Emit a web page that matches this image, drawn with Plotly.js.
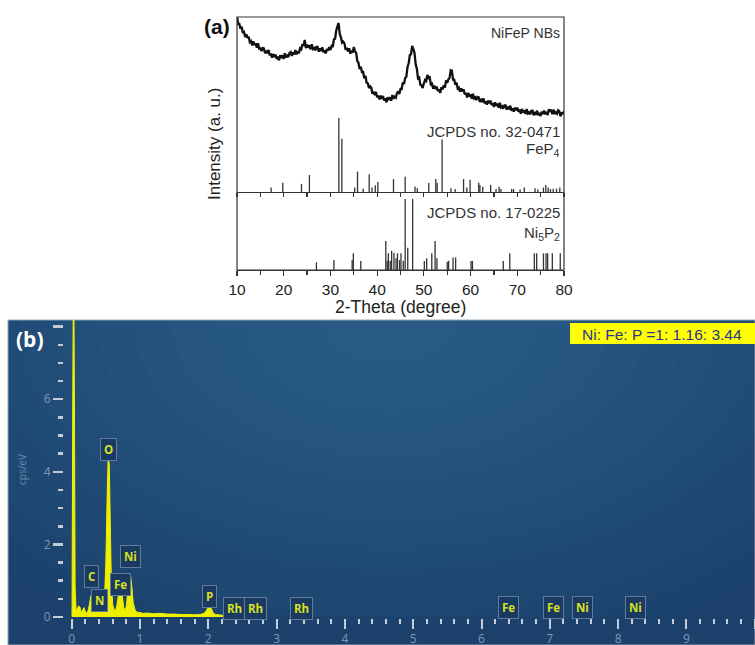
<!DOCTYPE html>
<html>
<head>
<meta charset="utf-8">
<script src="https://cdn.plot.ly/plotly-3.0.1.min.js"></script>
<style>
  html, body { margin: 0; padding: 0; background: #fff; }
  #chart { width: 755px; height: 645px; }
</style>
</head>
<body>
<div id="chart"></div>
<script>
// ---------- (a) XRD ----------
// NiFeP NBs diffractogram, 2-theta from 10 to 80 deg in 0.25 deg steps (arb. counts)
const xrdStart = 10, xrdStep = 0.25;
const xrdCounts = [
  351,328,328,314,320,301,304,289,297,286,290,274,277,264,276,265,270,257,270,254,255,247,256,
  255,240,248,240,250,234,239,227,238,229,236,223,230,219,234,226,234,223,240,228,233,229,242,
  244,232,243,237,250,237,246,240,255,252,267,263,280,256,266,257,264,252,267,253,256,249,259,
  259,245,255,247,258,243,249,240,253,248,259,250,262,259,282,284,309,321,331,298,288,272,275,
  270,251,256,246,255,239,248,242,259,246,242,217,212,193,200,184,184,165,173,152,150,136,141,
  137,119,125,115,124,108,113,102,113,104,112,99,105,93,108,100,108,98,115,104,110,107,121,
  126,118,133,133,153,148,166,170,199,210,235,237,262,253,241,207,194,165,167,146,144,136,150,
  160,157,175,166,168,147,149,134,143,133,140,127,132,121,138,132,144,137,159,151,162,166,189,
  188,161,161,146,152,134,137,125,135,126,132,117,121,108,121,111,117,104,119,105,108,100,109,
  108,94,103,94,105,90,96,86,98,90,98,85,91,79,93,83,89,77,92,78,81,74,84,
  84,71,80,72,83,68,75,65,77,69,77,65,71,59,73,63,69,58,73,60,63,57,67,
  68,54,64,56,68,54,61,52,65,58,68,57,64,55,72,65,71,57,71,58,63,59,69,
  66,51,63,58,66
];
const twoTheta = xrdCounts.map((_, i) => xrdStart + xrdStep * i);

// Reference pattern FeP4, JCPDS no. 32-0471 (relative intensity, %)
const fep4Pos = [17.3,19.8,23.8,25.5,31.8,32.45,35.2,35.8,37.0,38.3,38.9,39.6,40.15,43.5,46.0,48.1,48.6,
  51.05,52.55,52.85,53.9,55.8,56.7,58.5,59.2,59.9,61.75,62.0,62.6,64.3,65.45,66.1,66.5,68.8,69.2,
  70.6,71.5,73.8,74.4,75.6,76.1,76.6,77.1,77.7,78.4,79.1];
const fep4Int = [6,12.5,11,23,100,72,6,27.5,4.5,24,6,9,13.5,17.5,20.5,7.5,5,
  12,17.5,12,71,5,4,17.5,6,16.5,12.5,9.5,7,9.5,4,7,4,4,4,
  3.5,6,5,3.5,6,9.5,6,4,4.5,4.5,6];

// Reference pattern Ni5P2, JCPDS no. 17-0225 (relative intensity, %)
const ni5p2Pos = [27.0,30.75,34.65,34.9,36.5,41.85,42.15,42.4,42.8,43.1,43.6,44.05,44.35,44.8,45.1,45.6,
  46.0,46.55,47.6,50.1,50.6,51.7,52.4,52.8,55.0,55.3,56.25,56.8,60.1,60.4,67.0,68.4,73.65,74.15,
  75.6,76.15,76.5,77.5,79.2];
const ni5p2Int = [10.8,14,14,23.5,12.7,40.8,13,23.5,13,27,24.4,16.4,23.5,14,23.5,13,
  100,31.5,100,12.7,16.4,23.5,40.8,16.4,11.7,13,17.8,17.8,12.7,12.7,12.7,23.5,23.5,23.5,
  23.5,23.5,23.5,23.5,23.5];

const xrdTickVals = [10,20,30,40,50,60,70,80];

// ---------- (b) EDS ----------
const edsEnergy = [0.000,0.005,0.015,0.025,0.030,0.040,0.050,0.065,0.08,0.10,0.12,0.14,0.16,0.18,0.20,0.22,0.24,
  0.26,0.28,0.30,0.32,0.34,0.36,0.38,0.40,0.42,0.44,0.46,0.48,0.50,0.52,0.535,0.55,0.565,0.58,0.60,
  0.62,0.64,0.66,0.68,0.70,0.72,0.74,0.76,0.78,0.80,0.82,0.84,0.86,0.88,0.90,0.93,0.96,1.00,1.05,
  1.10,1.20,1.30,1.40,1.50,1.60,1.70,1.80,1.88,1.94,1.98,2.00,2.02,2.04,2.07,2.10,2.20,2.35,2.50,
  2.65,2.75,2.80];
const edsCps = [0.05,0.1,5.8,9.5,9.5,6.0,0.8,0.15,0.22,0.3,0.28,0.12,0.2,0.26,0.15,0.1,0.18,
  0.35,0.58,0.55,0.3,0.15,0.12,0.2,0.26,0.22,0.18,0.25,0.5,1.5,3.4,4.45,4.2,2.6,1.0,0.35,
  0.2,0.18,0.3,0.55,0.82,0.86,0.6,0.28,0.16,0.3,0.7,1.08,1.15,0.85,0.4,0.18,0.13,0.12,0.1,
  0.11,0.09,0.1,0.08,0.08,0.07,0.07,0.06,0.07,0.1,0.2,0.3,0.34,0.25,0.12,0.07,0.05,0.05,0.04,
  0.04,0.03,0.0];

// Identified lines (keV)
const lineNames    = ['C','N','O','Fe','Ni','P','Rh','Rh','Rh','Fe','Fe','Ni','Ni'];
const lineEnergies = [0.29,0.40,0.535,0.715,0.86,2.013,2.377,2.697,3.36,6.40,7.06,7.48,8.26];
const ratioText = 'Ni: Fe: P =1: 1.16: 3.44';

// ---------- helpers ----------
function sticks(pos, inten) {
  const x = [], y = [];
  pos.forEach((p, i) => { x.push(p, p, null); y.push(0, inten[i], null); });
  return { x, y };
}
const W = 755, H = 645;
const px = v => v / W;          // horizontal pixel -> paper
const py = v => 1 - v / H;      // vertical pixel -> paper

const fepSt = sticks(fep4Pos, fep4Int);
const niSt = sticks(ni5p2Pos, ni5p2Int);

const traces = [
  { x: twoTheta, y: xrdCounts, xaxis: 'x2', yaxis: 'y4', mode: 'lines',
    line: { color: '#111', width: 2.3, simplify: false }, hoverinfo: 'skip' },
  { x: fepSt.x, y: fepSt.y, xaxis: 'x2', yaxis: 'y2', mode: 'lines',
    line: { color: '#333', width: 1.3 }, hoverinfo: 'skip' },
  { x: niSt.x, y: niSt.y, xaxis: 'x', yaxis: 'y3', mode: 'lines',
    line: { color: '#333', width: 1.3 }, hoverinfo: 'skip' },
  { x: edsEnergy, y: edsCps, xaxis: 'x3', yaxis: 'y5', mode: 'lines',
    line: { color: '#eef000', width: 1, simplify: false }, fill: 'tozeroy', fillcolor: '#eef000', hoverinfo: 'skip' }
];

// pixel scale of the EDS axes
const keV0 = 71.7, pxPerKeV = 68.3, cps0 = 617, pxPerCps = 36.3;
const xRangeB = [(8 - keV0) / pxPerKeV, (W - keV0) / pxPerKeV];
const yRangeB = [0, (cps0 - 320) / pxPerCps];

const majorB = [0,1,2,3,4,5,6,7,8,9,10];
const minorB = [];
for (let k = 1; k < 50; k++) if (k % 5 !== 0) minorB.push(k / 5);
const minorBy = [];
for (let k = 1; k < 17; k++) if (k % 4 !== 0) minorBy.push(k / 2);

const axA = { showgrid: false, zeroline: false, fixedrange: true };
const lineCol = '#333';
const tickBlue = '#c4ccd8';
const labBlue = '#7f97b6';

// label box tip heights (cps/eV) for the identified lines
const tipHeights = [0.94,0.30,4.45,0.74,1.49,0.39,0.08,0.08,0.08,0.11,0.11,0.11,0.11];

function paperNote(text, x, y, opts) {
  return Object.assign({ text, x: px(x), y: py(y), xref: 'paper', yref: 'paper',
    xanchor: 'center', yanchor: 'middle', showarrow: false }, opts);
}
const fA = (size, color) => ({ family: 'Liberation Sans, Arial', size, color });

const annotations = [
  paperNote('<b>(a)</b>', 232, 27, { xanchor: 'right', font: fA(21, '#111') }),
  paperNote('NiFeP NBs', 562, 33, { xanchor: 'right', font: fA(14, '#333') }),
  paperNote('JCPDS no. 32-0471', 562, 131, { xanchor: 'right', font: fA(15, '#333') }),
  paperNote('FeP<sub>4</sub>', 562, 150, { xanchor: 'right', font: fA(15, '#333') }),
  paperNote('JCPDS no. 17-0225', 562, 212, { xanchor: 'right', font: fA(15, '#333') }),
  paperNote('Ni<sub>5</sub>P<sub>2</sub>', 562, 233, { xanchor: 'right', font: fA(15, '#333') }),
  paperNote('Intensity (a. u.)', 214, 144, { textangle: -90, font: fA(17, '#222') }),
  paperNote('2-Theta (degree)', 400, 307, { font: fA(17.5, '#222') }),
  // panel (b)
  paperNote('<b>(b)</b>', 30, 339, { font: { family: 'Open Sans, Liberation Sans', size: 21, color: '#ffffff' } }),
  paperNote('cps/eV', 22, 470, { textangle: -90, font: { family: 'Open Sans', size: 10, color: '#6d87a8' } }),
  paperNote(ratioText, 580, 334, { xanchor: 'left', font: fA(15.5, '#2a3590') })
];
lineNames.forEach((nm, i) => {
  annotations.push({
    text: '<b>' + nm + '</b>', x: lineEnergies[i], y: tipHeights[i], xref: 'x3', yref: 'y5',
    showarrow: true, arrowhead: 0, arrowwidth: 1, arrowcolor: '#5f7b9e', ax: 0, ay: -6,
    bgcolor: '#1a3a62', bordercolor: '#5f7b9e', borderwidth: 1, borderpad: 3,
    font: { family: 'Open Sans, Liberation Sans', size: 11.5, color: '#d6e021' }
  });
});

const shapes = [
  // frame of panel (a)
  { type: 'rect', xref: 'paper', yref: 'paper', x0: px(237), x1: px(564), y0: py(270), y1: py(17),
    layer: 'above', line: { color: lineCol, width: 1.2 }, fillcolor: 'rgba(0,0,0,0)' },
  // panel (b) backdrop
  { type: 'rect', xref: 'paper', yref: 'paper', x0: px(8), x1: 1, y0: 0, y1: py(320), layer: 'below',
    fillcolor: '#1b416c', line: { color: '#9aa6b4', width: 1 } },
  { type: 'rect', xref: 'paper', yref: 'paper', x0: px(570), x1: 1, y0: py(344), y1: py(323), layer: 'above',
    fillcolor: '#ffff00', line: { width: 0 } }
];
// soft glow near the top of panel (b)
const glowC = [390, 322];
for (let k = 0; k < 14; k++) {
  const rx = 560 - k * 38, ry = 340 - k * 23;
  shapes.push({
    type: 'circle', xref: 'x3', yref: 'y5', layer: 'below',
    x0: (glowC[0] - rx - keV0) / pxPerKeV, x1: (glowC[0] + rx - keV0) / pxPerKeV,
    y0: (cps0 - (glowC[1] + ry)) / pxPerCps, y1: (cps0 - (glowC[1] - ry)) / pxPerCps,
    fillcolor: '#6a9ccc', opacity: 0.022, line: { width: 0 }
  });
}

const layout = {
  width: W, height: H,
  margin: { l: 0, r: 0, t: 0, b: 0 },
  paper_bgcolor: '#ffffff', plot_bgcolor: 'rgba(0,0,0,0)',
  showlegend: false,
  xaxis: Object.assign({}, axA, {
    domain: [px(237), px(564)], range: [10, 80], anchor: 'y3',
    tickmode: 'array', tickvals: xrdTickVals, ticks: 'outside', ticklen: 5, tickwidth: 1.2, tickcolor: lineCol,
    minor: { tickmode: 'linear', tick0: 5, dtick: 5, ticks: 'outside', ticklen: 4, tickwidth: 1.2, tickcolor: lineCol },
    showline: true, linecolor: lineCol, linewidth: 1.2,
    tickfont: fA(15.5, '#222')
  }),
  xaxis2: Object.assign({}, axA, {
    domain: [px(237), px(564)], range: [10, 80], anchor: 'y2',
    tickmode: 'linear', tick0: 10, dtick: 5, ticks: 'outside', ticklen: 4, tickwidth: 1.2, tickcolor: lineCol,
    showticklabels: false, showline: true, linecolor: lineCol, linewidth: 1.2
  }),
  yaxis2: Object.assign({}, axA, {
    domain: [py(192), py(17)], range: [0, 236.5], anchor: 'x2',
    showline: false, ticks: '', showticklabels: false
  }),
  yaxis3: Object.assign({}, axA, {
    domain: [py(270), py(192)], range: [0, 110], anchor: 'x',
    showline: false, ticks: '', showticklabels: false
  }),
  yaxis4: Object.assign({}, axA, {
    range: [-176, 349], overlaying: 'y2', anchor: 'x2', visible: false
  }),
  xaxis3: Object.assign({}, axA, {
    domain: [px(8), 1], range: xRangeB, anchor: 'free', position: py(618),
    tickmode: 'array', tickvals: majorB, ticktext: ['0','1','2','3','4','5','6','7','8','9','keV'],
    ticks: 'outside', ticklen: 10, tickwidth: 2, tickcolor: tickBlue,
    minor: { tickmode: 'array', tickvals: minorB, ticks: 'outside', ticklen: 5, tickwidth: 2, tickcolor: tickBlue },
    showline: false,
    tickfont: { family: 'Open Sans', size: 12, color: labBlue }
  }),
  yaxis5: Object.assign({}, axA, {
    domain: [py(617), py(320)], range: yRangeB, anchor: 'free', position: px(63),
    tickmode: 'array', tickvals: [0, 2, 4, 6, 8], ticktext: ['0', '2', '4', '6', ''],
    ticks: 'outside', ticklen: 10, tickwidth: 2.5, tickcolor: tickBlue,
    minor: { tickmode: 'array', tickvals: minorBy, ticks: 'outside', ticklen: 5, tickwidth: 2.5, tickcolor: tickBlue },
    showline: false,
    tickfont: { family: 'Open Sans', size: 12, color: labBlue }
  }),
  annotations: annotations,
  shapes: shapes
};

Plotly.newPlot('chart', traces, layout, { staticPlot: true, displayModeBar: false });
</script>
</body>
</html>
